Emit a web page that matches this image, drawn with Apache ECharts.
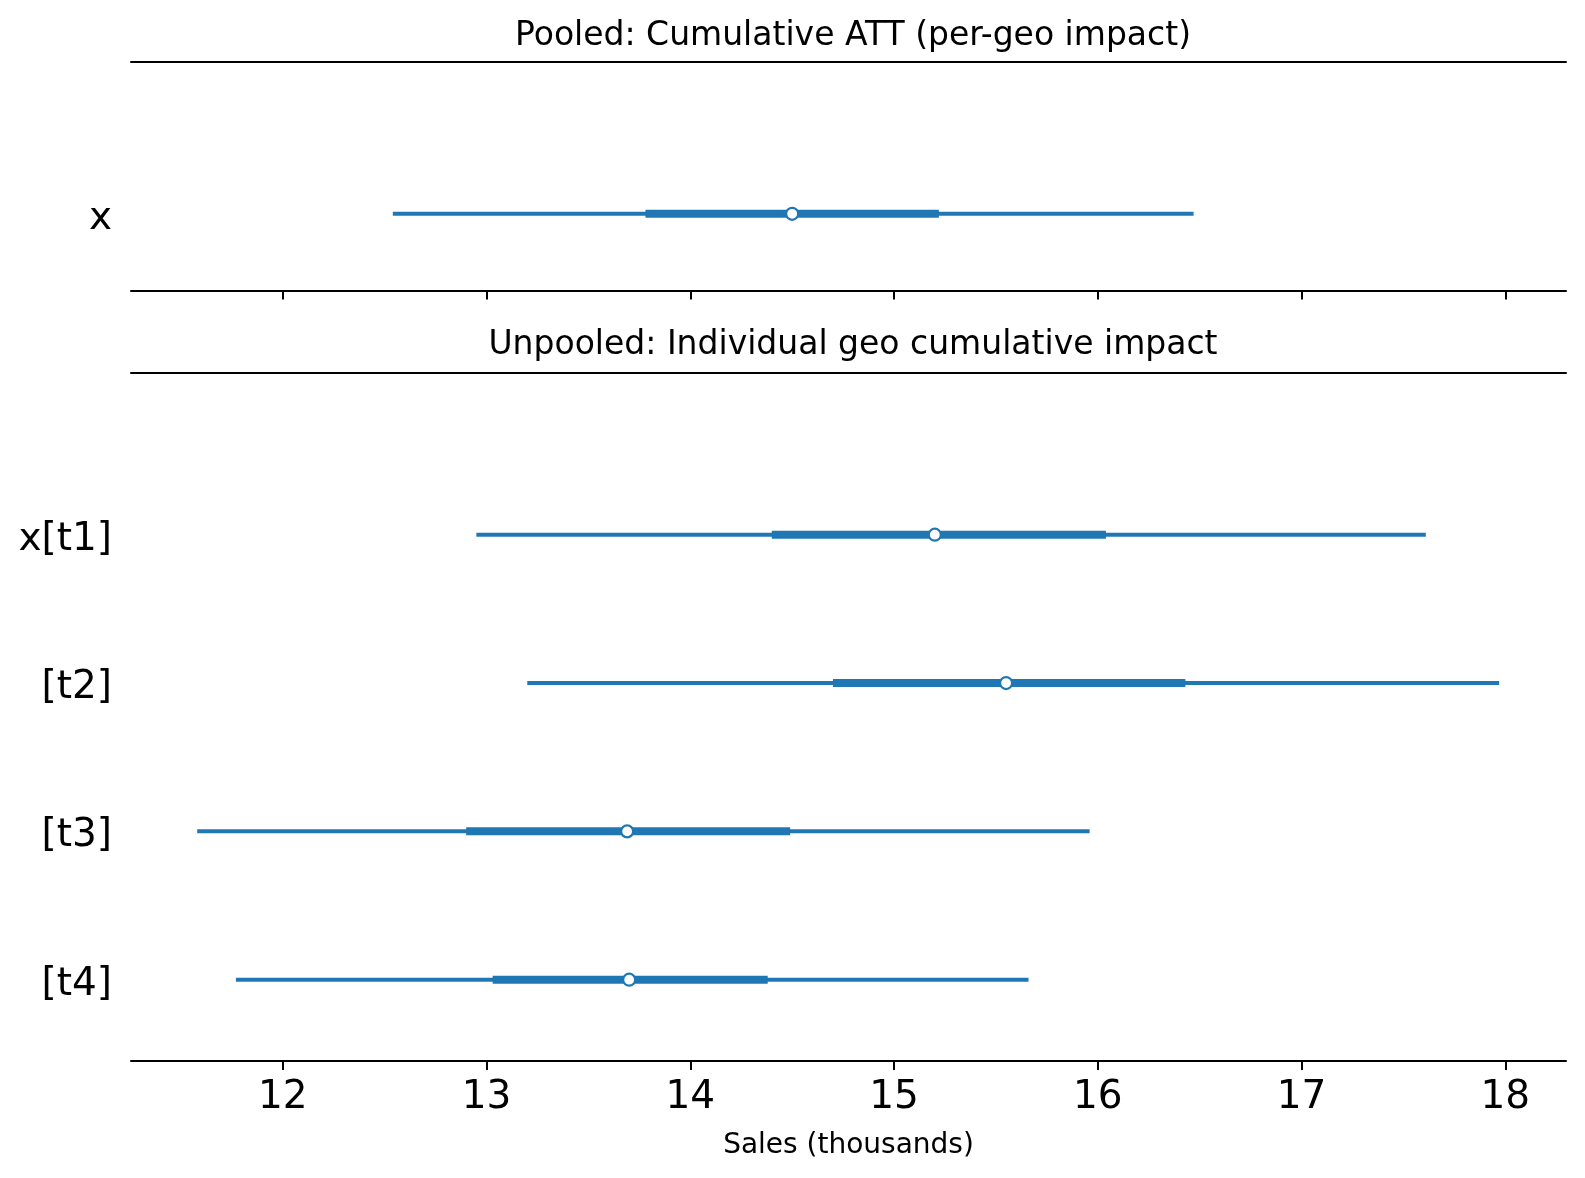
<!DOCTYPE html>
<html>
<head>
<meta charset="utf-8">
<script src="https://cdn.jsdelivr.net/npm/echarts@6/dist/echarts.min.js"></script>
<style>
  html, body { margin: 0; padding: 0; background: #fff; }
  #chart { width: 1585px; height: 1178px; }
</style>
</head>
<body>
<div id="chart"></div>
<script>
const pooledLabels = ["x"];
const pooledLow94 = [12.54];
const pooledHigh94 = [16.47];
const pooledLow50 = [13.78];
const pooledHigh50 = [15.22];
const pooledMean = [14.5];

const geoLabels = ["x[t1]", "[t2]", "[t3]", "[t4]"];
const geoLow94 = [12.95, 13.2, 11.58, 11.77];
const geoHigh94 = [17.61, 17.97, 15.96, 15.66];
const geoLow50 = [14.4, 14.7, 12.9, 13.03];
const geoHigh50 = [16.04, 16.43, 14.49, 14.38];
const geoMean = [15.2, 15.55, 13.69, 13.7];

const xTicks = [12, 13, 14, 15, 16, 17, 18];
const blue = "#1f77b4";
const font = "DejaVu Sans";

// rows are drawn top to bottom, so first label gets the highest y
function rows(labels, lo94, hi94, lo50, hi50, mean) {
  const n = labels.length;
  return labels.map((_, i) => [lo94[i], hi94[i], lo50[i], hi50[i], mean[i], n - 1 - i]);
}

function renderForest(params, api) {
  const y = api.value(5);
  const a = api.coord([api.value(0), y]);
  const b = api.coord([api.value(1), y]);
  const c = api.coord([api.value(2), y]);
  const d = api.coord([api.value(3), y]);
  const m = api.coord([api.value(4), y]);
  return {
    type: "group",
    children: [
      { type: "line", shape: { x1: a[0], y1: a[1], x2: b[0], y2: b[1] }, style: { stroke: blue, lineWidth: 4 } },
      { type: "line", shape: { x1: c[0], y1: c[1], x2: d[0], y2: d[1] }, style: { stroke: blue, lineWidth: 8 } },
      { type: "circle", shape: { cx: m[0], cy: m[1], r: 6 }, style: { fill: "#fff", stroke: blue, lineWidth: 2.2 } }
    ]
  };
}

function yLabelMap(labels) {
  const n = labels.length;
  const map = {};
  labels.forEach((l, i) => { map[n - 1 - i] = l; });
  return map;
}

const pooledMap = yLabelMap(pooledLabels);
const geoMap = yLabelMap(geoLabels);

const xMin = 11.255, xMax = 18.298;

function xBottom(gridIndex, showLabels) {
  return {
    type: "value",
    gridIndex,
    min: xMin,
    max: xMax,
    position: "bottom",
    splitLine: { show: false },
    axisLine: { show: true, onZero: false, lineStyle: { color: "#000", width: 2 } },
    axisTick: { show: true, customValues: xTicks, length: 9, lineStyle: { color: "#000", width: 2 } },
    axisLabel: {
      show: showLabels,
      customValues: xTicks,
      fontFamily: font,
      fontSize: 39,
      color: "#000",
      margin: 17
    },
    name: showLabels ? "Sales (thousands)" : "",
    nameLocation: "middle",
    nameGap: 71,
    nameTextStyle: { fontFamily: font, fontSize: 28, color: "#000" }
  };
}

function xTop(gridIndex) {
  return {
    type: "value",
    gridIndex,
    min: xMin,
    max: xMax,
    position: "top",
    splitLine: { show: false },
    axisLine: { show: true, onZero: false, lineStyle: { color: "#000", width: 2 } },
    axisTick: { show: false },
    axisLabel: { show: false }
  };
}

function yAxis(gridIndex, min, max, map) {
  const vals = Object.keys(map).map(Number);
  return {
    type: "value",
    gridIndex,
    min,
    max,
    splitLine: { show: false },
    axisLine: { show: false },
    axisTick: { show: false },
    axisLabel: {
      customValues: vals,
      formatter: (v) => map[Math.round(v)] ? "{a|" + map[Math.round(v)] + "}" : "",
      margin: 19,
      rich: {
        a: { fontFamily: font, fontSize: 39, color: "#000", padding: [10, 0, 0, 0] }
      }
    }
  };
}

const chart = echarts.init(document.getElementById("chart"));
chart.setOption({
  animation: false,
  backgroundColor: "#fff",
  title: [
    {
      text: "Pooled: Cumulative ATT (per-geo impact)",
      left: 848, top: 15, textAlign: "center",
      textStyle: { fontFamily: font, fontSize: 33, fontWeight: "normal", color: "#000" }
    },
    {
      text: "Unpooled: Individual geo cumulative impact",
      left: 848, top: 324, textAlign: "center",
      textStyle: { fontFamily: font, fontSize: 33, fontWeight: "normal", color: "#000" }
    }
  ],
  grid: [
    { left: 131, right: 19, top: 61.5, height: 229 },
    { left: 131, right: 19, top: 373, height: 688 }
  ],
  xAxis: [xBottom(0, false), xTop(0), xBottom(1, true), xTop(1)],
  yAxis: [
    yAxis(0, -0.5, 0.9925, pooledMap),
    yAxis(1, -0.548, 4.09, geoMap)
  ],
  series: [
    {
      type: "custom",
      xAxisIndex: 0,
      yAxisIndex: 0,
      renderItem: renderForest,
      encode: { x: [0, 1, 2, 3, 4], y: 5 },
      data: rows(pooledLabels, pooledLow94, pooledHigh94, pooledLow50, pooledHigh50, pooledMean)
    },
    {
      type: "custom",
      xAxisIndex: 2,
      yAxisIndex: 1,
      renderItem: renderForest,
      encode: { x: [0, 1, 2, 3, 4], y: 5 },
      data: rows(geoLabels, geoLow94, geoHigh94, geoLow50, geoHigh50, geoMean)
    }
  ]
});
</script>
</body>
</html>
